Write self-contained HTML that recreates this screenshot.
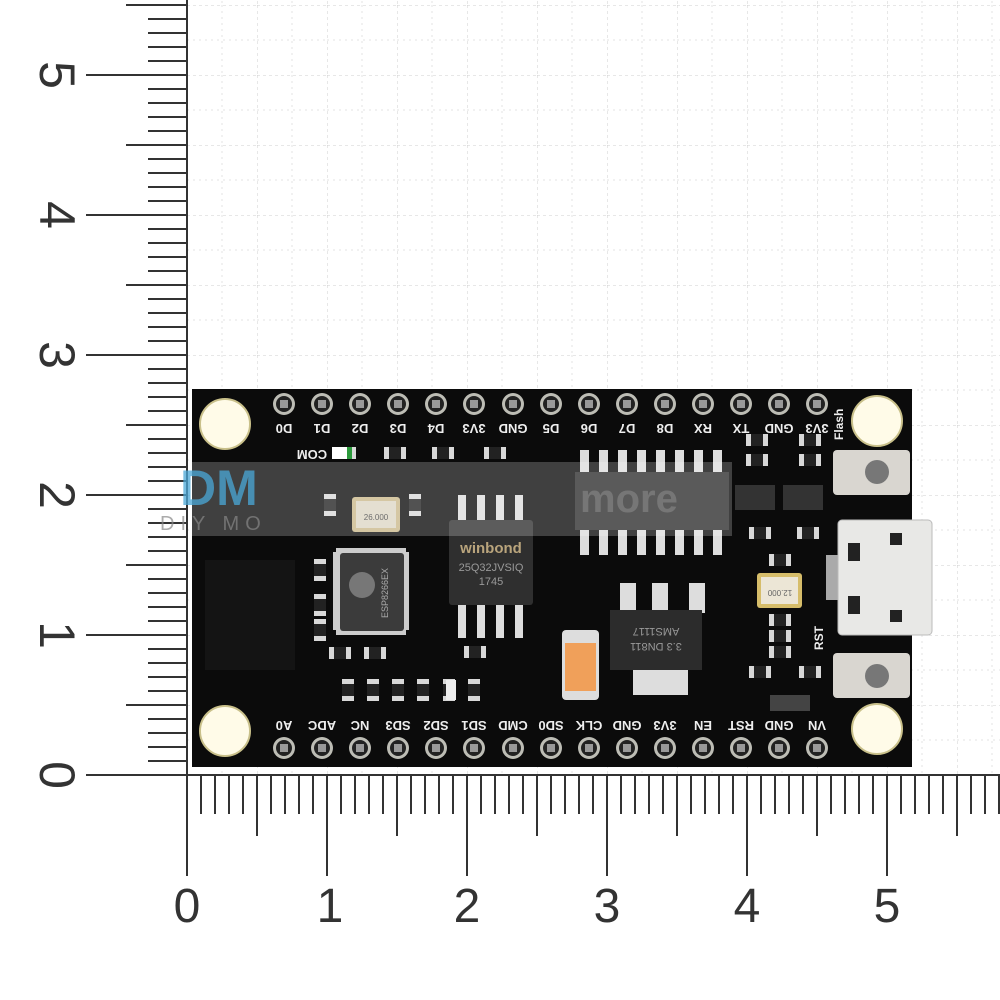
<!DOCTYPE html>
<html><head><meta charset="utf-8"><style>
html,body{margin:0;padding:0;background:#fff}
svg{display:block}
text{font-family:"Liberation Sans",sans-serif}
</style></head><body>
<svg width="1000" height="1000" viewBox="0 0 1000 1000" xmlns="http://www.w3.org/2000/svg">
<defs>
<pattern id="grid" width="70" height="70" patternUnits="userSpaceOnUse" x="187" y="5">
<path d="M0 0V70M0 0H70" stroke="#cfcfcf" stroke-width="1" stroke-dasharray="3,3" fill="none"/>
<path d="M35 0V70M0 35H70" stroke="#e3e3e3" stroke-width="1" stroke-dasharray="2,4" fill="none"/>
</pattern>
<g id="pin"><circle r="11" fill="#bdbdb5"/><circle r="8" fill="#222"/><rect x="-4" y="-4" width="8" height="8" fill="#999"/></g>
<g id="res"><rect x="-11" y="-6" width="22" height="12" fill="#d8d8d8"/><rect x="-6" y="-6" width="12" height="12" fill="#222"/></g>
<g id="resv"><rect x="-6" y="-11" width="12" height="22" fill="#d8d8d8"/><rect x="-6" y="-6" width="12" height="12" fill="#222"/></g>
</defs>
<rect x="187" y="0" width="813" height="775" fill="url(#grid)"/>

<!-- left ruler -->
<g stroke="#333" stroke-width="2">
<line x1="187" y1="0" x2="187" y2="775"/>
<path d="M148 761H187M148 747H187M148 733H187M148 719H187M126 705H187M148 691H187M148 677H187M148 663H187M148 649H187
M148 621H187M148 607H187M148 593H187M148 579H187M126 565H187M148 551H187M148 537H187M148 523H187M148 509H187
M148 481H187M148 467H187M148 453H187M148 439H187M126 425H187M148 411H187M148 397H187M148 383H187M148 369H187
M148 341H187M148 327H187M148 313H187M148 299H187M126 285H187M148 271H187M148 257H187M148 243H187M148 229H187
M148 201H187M148 187H187M148 173H187M148 159H187M126 145H187M148 131H187M148 117H187M148 103H187M148 89H187
M148 61H187M148 47H187M148 33H187M148 19H187M126 5H187"/>
<path d="M86 775H187M86 635H187M86 495H187M86 355H187M86 215H187M86 75H187"/>
</g>
<g font-size="50" fill="#333" text-anchor="middle">
<text transform="translate(40,775) rotate(90)">0</text>
<text transform="translate(40,635) rotate(90)">1</text>
<text transform="translate(40,495) rotate(90)">2</text>
<text transform="translate(40,355) rotate(90)">3</text>
<text transform="translate(40,215) rotate(90)">4</text>
<text transform="translate(40,75) rotate(90)">5</text>
</g>

<!-- bottom ruler -->
<g stroke="#333" stroke-width="2">
<line x1="187" y1="775" x2="1000" y2="775"/>
<path d="M201 775V814M215 775V814M229 775V814M243 775V814M257 775V836M271 775V814M285 775V814M299 775V814M313 775V814
M341 775V814M355 775V814M369 775V814M383 775V814M397 775V836M411 775V814M425 775V814M439 775V814M453 775V814
M481 775V814M495 775V814M509 775V814M523 775V814M537 775V836M551 775V814M565 775V814M579 775V814M593 775V814
M621 775V814M635 775V814M649 775V814M663 775V814M677 775V836M691 775V814M705 775V814M719 775V814M733 775V814
M761 775V814M775 775V814M789 775V814M803 775V814M817 775V836M831 775V814M845 775V814M859 775V814M873 775V814
M901 775V814M915 775V814M929 775V814M943 775V814M957 775V836M971 775V814M985 775V814M999 775V814"/>
<path d="M187 775V876M327 775V876M467 775V876M607 775V876M747 775V876M887 775V876"/>
</g>
<g font-size="48" fill="#333" text-anchor="middle">
<text x="187" y="922">0</text><text x="330" y="922">1</text><text x="467" y="922">2</text>
<text x="607" y="922">3</text><text x="747" y="922">4</text><text x="887" y="922">5</text>
</g>

<!-- PCB -->
<rect x="192" y="389" width="720" height="378" fill="#0b0b0b"/>
<rect x="205" y="560" width="90" height="110" fill="#141414"/>
<circle cx="225" cy="424" r="25" fill="#fffbe8" stroke="#c9c08a" stroke-width="2"/>
<circle cx="877" cy="421" r="25" fill="#fffbe8" stroke="#c9c08a" stroke-width="2"/>
<circle cx="225" cy="731" r="25" fill="#fffbe8" stroke="#c9c08a" stroke-width="2"/>
<circle cx="877" cy="729" r="25" fill="#fffbe8" stroke="#c9c08a" stroke-width="2"/>

<!-- pins -->
<g>
<use href="#pin" x="284" y="404"/><use href="#pin" x="322" y="404"/><use href="#pin" x="360" y="404"/><use href="#pin" x="398" y="404"/><use href="#pin" x="436" y="404"/><use href="#pin" x="474" y="404"/><use href="#pin" x="513" y="404"/><use href="#pin" x="551" y="404"/><use href="#pin" x="589" y="404"/><use href="#pin" x="627" y="404"/><use href="#pin" x="665" y="404"/><use href="#pin" x="703" y="404"/><use href="#pin" x="741" y="404"/><use href="#pin" x="779" y="404"/><use href="#pin" x="817" y="404"/>
<use href="#pin" x="284" y="748"/><use href="#pin" x="322" y="748"/><use href="#pin" x="360" y="748"/><use href="#pin" x="398" y="748"/><use href="#pin" x="436" y="748"/><use href="#pin" x="474" y="748"/><use href="#pin" x="513" y="748"/><use href="#pin" x="551" y="748"/><use href="#pin" x="589" y="748"/><use href="#pin" x="627" y="748"/><use href="#pin" x="665" y="748"/><use href="#pin" x="703" y="748"/><use href="#pin" x="741" y="748"/><use href="#pin" x="779" y="748"/><use href="#pin" x="817" y="748"/>
</g>
<g font-size="13" font-weight="bold" fill="#eee" text-anchor="middle">
<text transform="translate(284,424) rotate(180)">D0</text><text transform="translate(322,424) rotate(180)">D1</text><text transform="translate(360,424) rotate(180)">D2</text><text transform="translate(398,424) rotate(180)">D3</text><text transform="translate(436,424) rotate(180)">D4</text><text transform="translate(474,424) rotate(180)">3V3</text><text transform="translate(513,424) rotate(180)">GND</text><text transform="translate(551,424) rotate(180)">D5</text><text transform="translate(589,424) rotate(180)">D6</text><text transform="translate(627,424) rotate(180)">D7</text><text transform="translate(665,424) rotate(180)">D8</text><text transform="translate(703,424) rotate(180)">RX</text><text transform="translate(741,424) rotate(180)">TX</text><text transform="translate(779,424) rotate(180)">GND</text><text transform="translate(817,424) rotate(180)">3V3</text>
<text transform="translate(284,721) rotate(180)">A0</text><text transform="translate(322,721) rotate(180)">ADC</text><text transform="translate(360,721) rotate(180)">NC</text><text transform="translate(398,721) rotate(180)">SD3</text><text transform="translate(436,721) rotate(180)">SD2</text><text transform="translate(474,721) rotate(180)">SD1</text><text transform="translate(513,721) rotate(180)">CMD</text><text transform="translate(551,721) rotate(180)">SD0</text><text transform="translate(589,721) rotate(180)">CLK</text><text transform="translate(627,721) rotate(180)">GND</text><text transform="translate(665,721) rotate(180)">3V3</text><text transform="translate(703,721) rotate(180)">EN</text><text transform="translate(741,721) rotate(180)">RST</text><text transform="translate(779,721) rotate(180)">GND</text><text transform="translate(817,721) rotate(180)">VN</text>
<text transform="translate(312,450) rotate(180)">COM</text>
</g>

<!-- small parts -->
<g><use href="#res" x="345" y="453"/><use href="#res" x="395" y="453"/><use href="#res" x="443" y="453"/><use href="#res" x="495" y="453"/>
<use href="#resv" x="348" y="690"/><use href="#resv" x="373" y="690"/><use href="#resv" x="398" y="690"/><use href="#resv" x="423" y="690"/><use href="#resv" x="449" y="690"/><use href="#resv" x="474" y="690"/>
<use href="#resv" x="320" y="570"/><use href="#resv" x="320" y="605"/><use href="#resv" x="320" y="630"/>
<use href="#res" x="340" y="653"/><use href="#res" x="375" y="653"/><use href="#res" x="475" y="652"/>
<use href="#res" x="757" y="440"/><use href="#res" x="757" y="460"/><use href="#res" x="810" y="440"/><use href="#res" x="810" y="460"/>
<use href="#res" x="760" y="533"/><use href="#res" x="808" y="533"/><use href="#res" x="780" y="560"/>
<use href="#res" x="780" y="620"/><use href="#res" x="780" y="636"/><use href="#res" x="780" y="652"/><use href="#res" x="760" y="672"/><use href="#res" x="810" y="672"/>
<use href="#resv" x="330" y="505"/><use href="#resv" x="415" y="505"/>
</g>
<rect x="332" y="447" width="20" height="12" fill="#fff"/><rect x="347" y="447" width="5" height="12" fill="#2c9a3c"/>
<rect x="446" y="680" width="10" height="20" fill="#eee"/>

<!-- crystal 26MHz -->
<rect x="352" y="497" width="48" height="35" rx="3" fill="#c9b88a"/><rect x="356" y="501" width="40" height="27" fill="#ddd6c4"/>
<text x="376" y="520" font-size="8" fill="#444" text-anchor="middle" font-family="Liberation Mono">26.000</text>
<!-- ESP8266 -->
<rect x="336" y="548" width="70" height="8" fill="#ccc"/><rect x="336" y="627" width="70" height="8" fill="#ccc"/>
<rect x="333" y="552" width="8" height="78" fill="#ccc"/><rect x="401" y="552" width="8" height="78" fill="#ccc"/>
<rect x="340" y="553" width="64" height="78" rx="3" fill="#3b3b3b"/>
<circle cx="362" cy="585" r="13" fill="#777"/>
<text transform="translate(388,593) rotate(-90)" font-size="9" fill="#aaa" text-anchor="middle">ESP8266EX</text>
<!-- winbond -->
<g fill="#ddd"><rect x="458" y="495" width="8" height="28"/><rect x="477" y="495" width="8" height="28"/><rect x="496" y="495" width="8" height="28"/><rect x="515" y="495" width="8" height="28"/>
<rect x="458" y="600" width="8" height="38"/><rect x="477" y="600" width="8" height="38"/><rect x="496" y="600" width="8" height="38"/><rect x="515" y="600" width="8" height="38"/></g>
<rect x="449" y="520" width="84" height="85" rx="3" fill="#2f2f2f"/>
<text x="491" y="553" font-size="15" font-weight="bold" fill="#b9a47c" text-anchor="middle" font-family="Liberation Serif">winbond</text>
<text x="491" y="571" font-size="11" fill="#999" text-anchor="middle">25Q32JVSIQ</text>
<text x="491" y="585" font-size="11" fill="#999" text-anchor="middle">1745</text>
<!-- SOIC16 -->
<g fill="#ddd"><rect x="580" y="450" width="9" height="26"/><rect x="599" y="450" width="9" height="26"/><rect x="618" y="450" width="9" height="26"/><rect x="637" y="450" width="9" height="26"/><rect x="656" y="450" width="9" height="26"/><rect x="675" y="450" width="9" height="26"/><rect x="694" y="450" width="9" height="26"/><rect x="713" y="450" width="9" height="26"/>
<rect x="580" y="525" width="9" height="30"/><rect x="599" y="525" width="9" height="30"/><rect x="618" y="525" width="9" height="30"/><rect x="637" y="525" width="9" height="30"/><rect x="656" y="525" width="9" height="30"/><rect x="675" y="525" width="9" height="30"/><rect x="694" y="525" width="9" height="30"/><rect x="713" y="525" width="9" height="30"/></g>
<rect x="575" y="472" width="154" height="58" fill="#2c2c2c"/>
<rect x="735" y="485" width="40" height="25" fill="#333"/><rect x="783" y="485" width="40" height="25" fill="#333"/>
<!-- AMS1117 -->
<g fill="#ddd"><rect x="620" y="583" width="16" height="30"/><rect x="652" y="583" width="16" height="30"/><rect x="689" y="583" width="16" height="30"/>
<rect x="633" y="667" width="55" height="28"/></g>
<rect x="610" y="610" width="92" height="60" fill="#2c2c2c"/>
<text transform="translate(656,628) rotate(180)" font-size="11" fill="#999" text-anchor="middle">AMS1117</text>
<text transform="translate(656,643) rotate(180)" font-size="11" fill="#999" text-anchor="middle">3.3 DN811</text>
<rect x="562" y="630" width="37" height="70" rx="4" fill="#ddd"/><rect x="565" y="643" width="31" height="48" fill="#f0a05a"/>
<rect x="757" y="573" width="45" height="35" rx="3" fill="#d6bd6a"/><rect x="761" y="577" width="37" height="27" fill="#ece6d6"/>
<text transform="translate(780,590) rotate(180)" font-size="8" fill="#666" text-anchor="middle">12.000</text>
<rect x="770" y="695" width="40" height="16" fill="#444"/>
<!-- buttons -->
<rect x="833" y="450" width="77" height="45" rx="4" fill="#d9d6d0"/><circle cx="877" cy="472" r="12" fill="#777"/>
<rect x="833" y="653" width="77" height="45" rx="4" fill="#d9d6d0"/><circle cx="877" cy="676" r="12" fill="#777"/>
<text transform="translate(843,440) rotate(-90)" font-size="12" fill="#eee" font-weight="bold">Flash</text>
<text transform="translate(823,650) rotate(-90)" font-size="12" fill="#eee" font-weight="bold">RST</text>
<!-- USB -->
<rect x="826" y="555" width="12" height="45" fill="#aaa"/>
<rect x="838" y="520" width="94" height="115" rx="4" fill="#e8e8e6" stroke="#bbb"/>
<rect x="848" y="543" width="12" height="18" fill="#222"/><rect x="848" y="596" width="12" height="18" fill="#222"/>
<rect x="890" y="533" width="12" height="12" fill="#222"/><rect x="890" y="610" width="12" height="12" fill="#222"/>

<!-- watermark -->
<rect x="192" y="462" width="540" height="74" fill="#fff" opacity="0.22"/>
<text x="180" y="505" font-size="50" font-weight="bold" fill="#4aa8d8" opacity="0.75">DM</text>
<text x="160" y="530" font-size="20" fill="#888" opacity="0.7" letter-spacing="6">DIY MO</text>
<text x="580" y="512" font-size="40" font-weight="bold" fill="#999" opacity="0.45">more</text>
</svg>
</body></html>
